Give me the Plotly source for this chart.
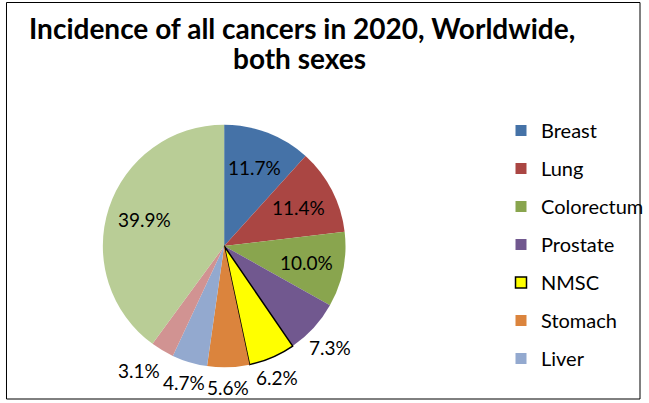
import math
import plotly.graph_objects as go

# Data
labels = ["Breast", "Lung", "Colorectum", "Prostate", "NMSC", "Stomach", "Liver", "Cervix uteri", "Other"]
values = [11.7, 11.4, 10.0, 7.3, 6.2, 5.6, 4.7, 3.1, 39.9]
legend_labels = ["Breast", "Lung", "Colorectum", "Prostate", "NMSC", "Stomach", "Liver"]
label_inside = [True, True, True, False, False, False, False, False, True]

colors = ["#4572A7", "#AA4643", "#89A54E", "#71588F", "#FFFF00", "#DB843D", "#93A9CF", "#D19392", "#B9CD96"]
line_colors = ["rgba(0,0,0,0)"] * 4 + ["#000000"] + ["rgba(0,0,0,0)"] * 4
line_widths = [0, 0, 0, 0, 1.5, 0, 0, 0, 0]

W, H = 649, 403
FONT = "Lato"
LABEL_SIZE = 19

fig = go.Figure()

# pie geometry (pixels)
cx, cy, r = 224.5, 246, 121.5
fig.add_trace(go.Pie(
    labels=labels,
    values=values,
    sort=False,
    direction="clockwise",
    rotation=0,
    marker=dict(colors=colors, line=dict(color=line_colors, width=line_widths)),
    textinfo="none",
    domain=dict(x=[(cx - r) / W, (cx + r) / W], y=[1 - (cy + r) / H, 1 - (cy - r) / H]),
    showlegend=False,
    hoverinfo="label+percent",
))

# percentage labels placed from each slice's mid-angle (derived from the values)
total = sum(values)
annotations = []
cum = 0.0
lab_w, lab_h = 2.2 * LABEL_SIZE, 1.0 * LABEL_SIZE  # approx label box
gap = 3
prev = None
for v, inside in zip(values, label_inside):
    mid = (cum + v / 2) / total * 2 * math.pi
    cum += v
    s, c = math.sin(mid), math.cos(mid)
    if inside:
        d = 0.69 * r
        px, py = cx + d * s, cy - d * c
        prev = None
    else:
        ex, ey = cx + r * s, cy - r * c
        px = ex + 30 * s * abs(s)
        py = ey + (20 if c < 0 else -20)
        # resolve overlap with the previous outside label by shifting sideways, away from it
        if prev is not None:
        	ppx, ppy = prev
        	if abs(py - ppy) < lab_h and abs(px - ppx) < lab_w + gap:
        		px = ppx - (lab_w + gap) if px < ppx else ppx + (lab_w + gap)
        prev = (px, py)
    annotations.append(dict(
        text=f"{v / total * 100:.1f}%", x=px / W, y=1 - py / H, xref="paper", yref="paper",
        xanchor="center", yanchor="middle", showarrow=False,
        font=dict(family=FONT, size=LABEL_SIZE, color="black"),
    ))

# title (two lines)
annotations.append(dict(text="<b>Incidence of all cancers in 2020, Worldwide,</b>",
                        x=302 / W, y=1 - 28 / H, xref="paper", yref="paper",
                        xanchor="center", yanchor="middle", showarrow=False,
                        font=dict(family=FONT, size=28, color="black")))
annotations.append(dict(text="<b>both sexes</b>",
                        x=300 / W, y=1 - 58 / H, xref="paper", yref="paper",
                        xanchor="center", yanchor="middle", showarrow=False,
                        font=dict(family=FONT, size=28, color="black")))

# legend entries (first seven categories only, as in the reference)
for name in legend_labels:
    i = labels.index(name)
    fig.add_trace(go.Scatter(
        x=[None], y=[None], mode="markers", name=name, legendgroup=name,
        marker=dict(symbol="square", size=11, color=colors[i],
                    line=dict(color="#000000" if name == "NMSC" else colors[i],
                              width=1.5 if name == "NMSC" else 0)),
    ))

fig.update_layout(
    width=W, height=H,
    margin=dict(l=0, r=0, t=0, b=0),
    paper_bgcolor="white", plot_bgcolor="white",
    font=dict(family=FONT, color="black"),
    xaxis=dict(visible=False),
    yaxis=dict(visible=False),
    annotations=annotations,
    legend=dict(
        x=502 / W, y=1 - 111 / H, xanchor="left", yanchor="top",
        traceorder="grouped", tracegroupgap=9,
        font=dict(family=FONT, size=20, color="black"),
        bgcolor="rgba(0,0,0,0)",
    ),
    shapes=[dict(type="rect", xref="paper", yref="paper",
                 x0=6.5 / W, x1=641 / W, y0=1 - 399 / H, y1=1 - 2.5 / H,
                 line=dict(color="#000000", width=1), fillcolor="rgba(0,0,0,0)",
                 layer="below")],
)

fig.write_html("out.html")
